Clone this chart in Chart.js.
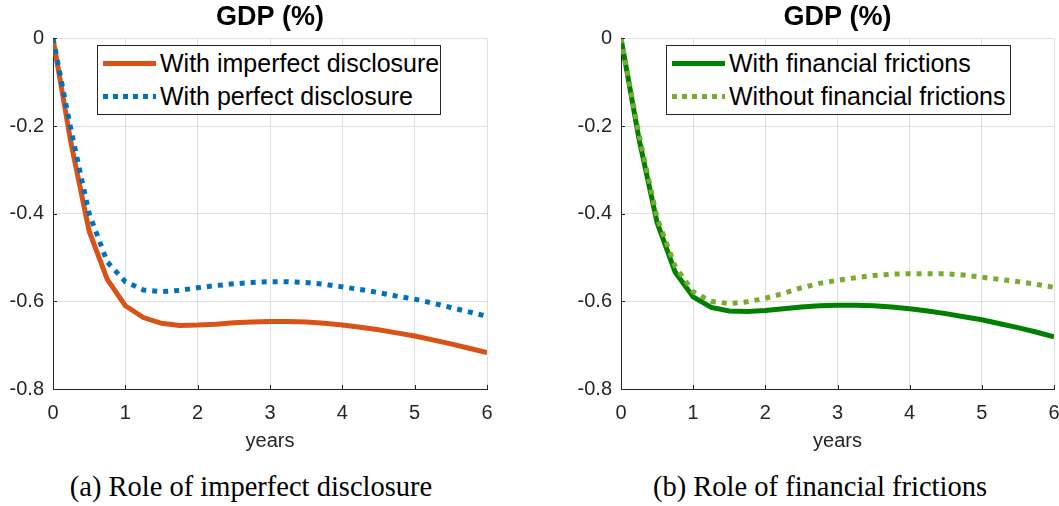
<!DOCTYPE html>
<html>
<head>
<meta charset="utf-8">
<script src="https://cdn.jsdelivr.net/npm/chart.js@4.4.1/dist/chart.umd.min.js"></script>
<style>
    html, body { margin: 0; padding: 0; background: #fff; overflow: hidden; width: 1059px; height: 506px; }
    .panel { position: absolute; top: 0; }
    .legend {
        position: absolute; top: 45px; height: 70px; box-sizing: border-box;
        border: 1px solid #262626; background: #fff; padding: 1px 0 0 5px;
        font-family: "Liberation Sans", Arial, sans-serif; font-size: 25px; color: #000;
        white-space: nowrap;
    }
    .legend .row { height: 33px; line-height: 33px; display: flex; align-items: center; }
    .legend .sample { width: 53px; height: 5px; margin-right: 4px; flex: none; }
    .caption {
        position: absolute; top: 471px; font-family: "Liberation Serif", "DejaVu Serif", serif;
        font-size: 28.5px; color: #000; white-space: nowrap; transform: translateX(-50%);
    }
</style>
</head>
<body>
<div class="panel" style="left:0px"><canvas id="chart-a" width="540" height="460"></canvas></div>
<div class="panel" style="left:568px"><canvas id="chart-b" width="539" height="460"></canvas></div>
<div class="legend" id="legend-a" style="left:97px; width:344px"></div>
<div class="legend" id="legend-b" style="left:666px; width:345px"></div>
<div class="caption" style="left:251px">(a) Role of imperfect disclosure</div>
<div class="caption" style="left:820px">(b) Role of financial frictions</div>

<script>
// quarterly horizon, in years
const years = [0, 0.25, 0.5, 0.75, 1, 1.25, 1.5, 1.75, 2, 2.25, 2.5, 2.75, 3,
    3.25, 3.5, 3.75, 4, 4.25, 4.5, 4.75, 5, 5.25, 5.5, 5.75, 6];
const xTicks = [0, 1, 2, 3, 4, 5, 6];
const yTicks = [0, -0.2, -0.4, -0.6, -0.8];

// panel (a)
const imperfectDisclosure = [0, -0.24, -0.44, -0.55, -0.61, -0.637, -0.650, -0.655, -0.654, -0.652,
    -0.649, -0.647, -0.646, -0.646, -0.647, -0.650, -0.654, -0.659, -0.665, -0.672,
    -0.679, -0.688, -0.697, -0.707, -0.717];
const perfectDisclosure = [0, -0.21, -0.40, -0.51, -0.555, -0.574, -0.578, -0.575, -0.569, -0.564,
    -0.560, -0.557, -0.555, -0.555, -0.557, -0.561, -0.567, -0.573, -0.580, -0.588,
    -0.595, -0.604, -0.614, -0.624, -0.634];

// panel (b)
const withFrictions = [0, -0.23, -0.42, -0.533, -0.59, -0.614, -0.622, -0.623, -0.621, -0.617,
    -0.613, -0.610, -0.609, -0.609, -0.610, -0.613, -0.617, -0.622, -0.628, -0.635,
    -0.642, -0.651, -0.660, -0.670, -0.681];
const withoutFrictions = [0, -0.22, -0.41, -0.52, -0.578, -0.600, -0.605, -0.601, -0.593, -0.582,
    -0.569, -0.559, -0.552, -0.546, -0.541, -0.538, -0.537, -0.537, -0.537, -0.540,
    -0.545, -0.550, -0.555, -0.561, -0.568];

const AXIS = '#262626';
const GRID = '#dfdfdf';
const SANS = '"Liberation Sans", Arial, sans-serif';

const toPoints = (ys) => ys.map((y, i) => ({ x: years[i], y }));

// MATLAB-style short ticks pointing into the axes
const inwardTicks = {
    id: 'inwardTicks',
    afterDraw(chart) {
        const { ctx, chartArea: a, scales: { x, y } } = chart;
        ctx.save();
        ctx.strokeStyle = AXIS;
        ctx.lineWidth = 1;
        ctx.beginPath();
        xTicks.forEach(v => {
            const px = Math.round(x.getPixelForValue(v)) + 0.5;
            ctx.moveTo(px, a.bottom);
            ctx.lineTo(px, a.bottom - 4);
        });
        yTicks.forEach(v => {
            const py = Math.round(y.getPixelForValue(v)) + 0.5;
            ctx.moveTo(a.left, py);
            ctx.lineTo(a.left + 4, py);
        });
        ctx.stroke();
        ctx.restore();
    }
};

const makeChart = (canvasId, legendId, series, padRight) => {
    const datasets = series.map(s => ({
        label: s.label,
        data: toPoints(s.values),
        borderColor: s.color,
        borderWidth: 5,
        borderDash: s.dotted ? [5, 6] : [],
        borderCapStyle: 'butt',
        pointRadius: 0,
        tension: 0,
        fill: false,
        order: s.dotted ? 1 : 2
    }));

    new Chart(document.getElementById(canvasId), {
        type: 'line',
        data: { datasets },
        plugins: [inwardTicks],
        options: {
            responsive: false,
            animation: false,
            layout: { padding: { left: 0, right: padRight, top: 0, bottom: 0 } },
            plugins: {
                legend: { display: false },
                tooltip: { enabled: false },
                title: {
                    display: true,
                    fullSize: false,
                    text: 'GDP (%)',
                    color: '#000',
                    font: { family: SANS, size: 27, weight: 'bold', lineHeight: 1.2 },
                    padding: { top: 1, bottom: 5 }
                }
            },
            scales: {
                x: {
                    type: 'linear',
                    min: 0,
                    max: 6,
                    afterBuildTicks: (scale) => { scale.ticks = xTicks.map(v => ({ value: v })); },
                    afterFit: (scale) => { scale.height = 71; },
                    ticks: { color: AXIS, padding: 12, font: { family: SANS, size: 20 }, maxRotation: 0 },
                    grid: { color: GRID, drawTicks: false },
                    border: { color: AXIS, width: 1 },
                    title: {
                        display: true,
                        text: 'years',
                        color: AXIS,
                        font: { family: SANS, size: 20, lineHeight: 1.2 },
                        padding: { top: 0, bottom: 7 }
                    }
                },
                y: {
                    min: -0.8,
                    max: 0,
                    afterBuildTicks: (scale) => { scale.ticks = yTicks.map(v => ({ value: v })); },
                    afterFit: (scale) => { scale.width = 53; },
                    ticks: {
                        color: AXIS,
                        padding: 9,
                        font: { family: SANS, size: 20 },
                        callback: (v) => (v === 0 ? '0' : v.toFixed(1))
                    },
                    grid: { color: GRID, drawTicks: false },
                    border: { color: AXIS, width: 1 }
                }
            }
        }
    });

    // legend box inside the axes, built from the same series
    document.getElementById(legendId).innerHTML = series.map(s => {
        const bg = s.dotted
            ? `repeating-linear-gradient(to right, ${s.color} 0 5px, transparent 5px 10px)`
            : s.color;
        return `<div class="row"><span class="sample" style="background:${bg}"></span>${s.label}</div>`;
    }).join('');
};

makeChart('chart-a', 'legend-a', [
    { label: 'With imperfect disclosure', values: imperfectDisclosure, color: '#D95319', dotted: false },
    { label: 'With perfect disclosure', values: perfectDisclosure, color: '#0072BD', dotted: true }
], 53);

makeChart('chart-b', 'legend-b', [
    { label: 'With financial frictions', values: withFrictions, color: '#008000', dotted: false },
    { label: 'Without financial frictions', values: withoutFrictions, color: '#77AC30', dotted: true }
], 53);
</script>
</body>
</html>
